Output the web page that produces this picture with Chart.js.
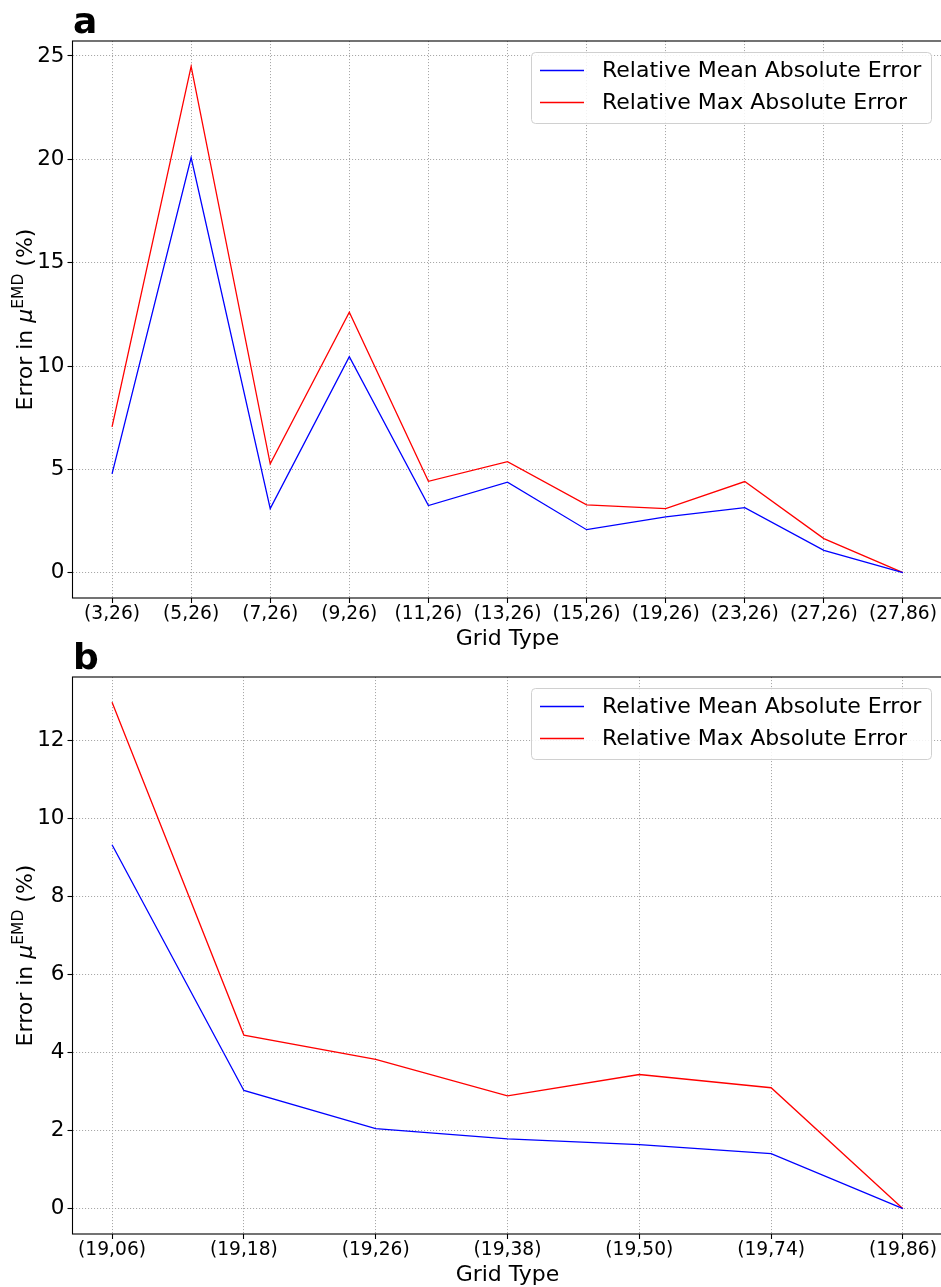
<!DOCTYPE html>
<html>
<head>
<meta charset="utf-8">
<script src="https://cdn.jsdelivr.net/npm/chart.js@4/dist/chart.umd.min.js"></script>
<style>
  html, body { margin: 0; padding: 0; background: #fff; overflow: hidden; width: 941px; height: 1287px; }
  #wrap { position: relative; width: 941px; height: 1287px; overflow: hidden; }
  canvas { position: absolute; left: 0; }
</style>
</head>
<body>
<div id="wrap">
  <canvas id="chartA" width="950" height="660" style="top:0px;width:950px;height:660px;"></canvas>
  <canvas id="chartB" width="950" height="657" style="top:630px;width:950px;height:657px;"></canvas>
</div>
<script>
// ---- Data (panel a) ----
const categoriesA = ['(3,26)','(5,26)','(7,26)','(9,26)','(11,26)','(13,26)','(15,26)','(19,26)','(23,26)','(27,26)','(27,86)'];
const meanErrA = [4.78, 20.08, 3.1, 10.45, 3.25, 4.38, 2.08, 2.7, 3.15, 1.08, 0];
const maxErrA  = [7.06, 24.5, 5.27, 12.6, 4.42, 5.37, 3.28, 3.1, 4.41, 1.65, 0];
const yTicksA  = [0, 5, 10, 15, 20, 25];

// ---- Data (panel b) ----
const categoriesB = ['(19,06)','(19,18)','(19,26)','(19,38)','(19,50)','(19,74)','(19,86)'];
const meanErrB = [9.33, 3.03, 2.05, 1.79, 1.64, 1.41, 0];
const maxErrB  = [12.98, 4.45, 3.83, 2.89, 3.44, 3.1, 0];
const yTicksB  = [0, 2, 4, 6, 8, 10, 12];

const seriesLabels = ['Relative Mean Absolute Error', 'Relative Max Absolute Error'];

const FONT = "'DejaVu Sans', 'Liberation Sans', sans-serif";

const panelPlugin = {
  id: 'panelDecor',
  afterDraw(chart) {
    const o = chart.options.plugins.panelDecor;
    const ctx = chart.ctx;
    const a = chart.chartArea;
    ctx.save();
    // frame (spines)
    ctx.strokeStyle = '#000';
    ctx.lineWidth = 1.1;
    ctx.setLineDash([]);
    ctx.strokeRect(a.left, a.top, a.right - a.left, a.bottom - a.top);

    // legend
    const bx = 531, bw = 400, bh = 71, by = a.top + 11;
    ctx.beginPath();
    if (ctx.roundRect) ctx.roundRect(bx + 0.5, by + 0.5, bw, bh, 4); else ctx.rect(bx + 0.5, by + 0.5, bw, bh);
    ctx.fillStyle = 'rgba(255,255,255,0.85)';
    ctx.fill();
    ctx.strokeStyle = '#d0d0d0';
    ctx.lineWidth = 1;
    ctx.stroke();
    chart.data.datasets.forEach((ds, i) => {
      const ry = by + 18.5 + i * 32;
      ctx.beginPath();
      ctx.strokeStyle = ds.borderColor;
      ctx.lineWidth = 1.3;
      ctx.moveTo(540, ry);
      ctx.lineTo(584, ry);
      ctx.stroke();
      ctx.fillStyle = '#000';
      ctx.font = '22px ' + FONT;
      ctx.textBaseline = 'middle';
      ctx.textAlign = 'left';
      ctx.fillText(ds.label, 602, ry + 1);
    });

    // panel label
    ctx.fillStyle = '#000';
    ctx.font = 'bold 36px ' + FONT;
    ctx.textAlign = 'left';
    ctx.textBaseline = 'alphabetic';
    ctx.fillText(o.label, 73, a.top - 8);

    // x title
    ctx.font = '22px ' + FONT;
    ctx.textAlign = 'center';
    ctx.fillText('Grid Type', (a.left + a.right) / 2, a.bottom + 47);

    // y title with superscript
    const cy = (a.top + a.bottom) / 2;
    const parts = [
      { t: 'Error in ', f: '22px ' + FONT, dy: 0 },
      { t: 'μ', f: 'oblique 22px ' + FONT, dy: 0 },
      { t: 'EMD', f: '15.5px ' + FONT, dy: -9 },
      { t: ' (%)', f: '22px ' + FONT, dy: 0 }
    ];
    let total = 0;
    parts.forEach(p => { ctx.font = p.f; p.w = ctx.measureText(p.t).width; total += p.w; });
    ctx.translate(32, cy);
    ctx.rotate(-Math.PI / 2);
    ctx.textAlign = 'left';
    let x = -total / 2;
    parts.forEach(p => { ctx.font = p.f; ctx.fillText(p.t, x, p.dy); x += p.w; });
    ctx.restore();
  }
};

function makeChart(id, cats, mean, max, yTicks, label, padTop, xHeight) {
  const lo = Math.min(...mean, ...max), hi = Math.max(...mean, ...max);
  const ym = (hi - lo) * 0.05;
  const xm = (cats.length - 1) * 0.05;
  const gridOpts = { color: '#a8a8a8', lineWidth: 1, tickBorderDash: [], tickColor: '#000', tickLength: 5, tickWidth: 1.1 };
  const borderOpts = { display: false, dash: [1.1, 1.9] };
  return new Chart(document.getElementById(id), {
    type: 'line',
    data: {
      datasets: [
        { label: seriesLabels[0], data: cats.map((c, i) => ({ x: i, y: mean[i] })), borderColor: '#0000ff', borderWidth: 1.3, pointRadius: 0, tension: 0, fill: false },
        { label: seriesLabels[1], data: cats.map((c, i) => ({ x: i, y: max[i] })), borderColor: '#ff0000', borderWidth: 1.3, pointRadius: 0, tension: 0, fill: false }
      ]
    },
    options: {
      responsive: false,
      animation: false,
      devicePixelRatio: 1,
      layout: { padding: { top: padTop, right: 7.5, left: 0, bottom: 0 } },
      plugins: { legend: { display: false }, tooltip: { enabled: false }, title: { display: false }, panelDecor: { label } },
      scales: {
        x: {
          type: 'linear',
          min: -xm, max: cats.length - 1 + xm,
          afterBuildTicks: ax => { ax.ticks = cats.map((c, i) => ({ value: i })); },
          afterFit: ax => { ax.height = xHeight; },
          ticks: { callback: v => cats[v], color: '#000', font: { family: FONT, size: 18.67 }, padding: 0, maxRotation: 0, autoSkip: false },
          grid: gridOpts,
          border: borderOpts
        },
        y: {
          type: 'linear',
          min: lo - ym, max: hi + ym,
          afterBuildTicks: ax => { ax.ticks = yTicks.map(v => ({ value: v })); },
          afterFit: ax => { ax.width = 72.5; },
          ticks: { color: '#000', font: { family: FONT, size: 21.5 }, padding: 3 },
          grid: gridOpts,
          border: borderOpts
        }
      }
    },
    plugins: [panelPlugin]
  });
}

makeChart('chartA', categoriesA, meanErrA, maxErrA, yTicksA, 'a', 41, 62);
makeChart('chartB', categoriesB, meanErrB, maxErrB, yTicksB, 'b', 47, 53);
</script>
</body>
</html>
